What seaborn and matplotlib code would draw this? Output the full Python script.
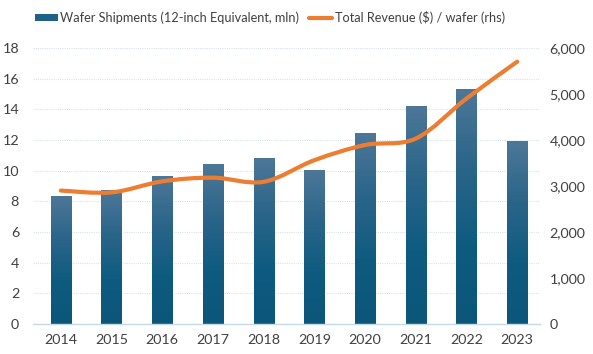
import matplotlib
matplotlib.use("Agg")
import matplotlib.pyplot as plt
import numpy as np
import pandas as pd
import seaborn as sns
from matplotlib.path import Path
from matplotlib.patches import PathPatch, Patch
from matplotlib.lines import Line2D
from matplotlib.ticker import FuncFormatter

# %% data
years = ["2014", "2015", "2016", "2017", "2018", "2019", "2020", "2021", "2022", "2023"]
wafer_shipments = [8.3, 8.7, 9.6, 10.4, 10.8, 10.0, 12.4, 14.2, 15.3, 11.9]
revenue_per_wafer = [2900, 2860, 3100, 3180, 3090, 3560, 3890, 4030, 4900, 5700]

df = pd.DataFrame({"year": years, "shipments": wafer_shipments, "rev": revenue_per_wafer})

sns.set_style("white")
plt.rcParams["font.family"] = ["Lato", "DejaVu Sans"]

text_col = "#404040"
orange = "#ED7D31"
bar_top = "#4d7798"
bar_bottom = "#0b5679"

fig = plt.figure(figsize=(5.93, 3.54), dpi=100)
ax = fig.add_axes([0.0556, 0.0847, 0.855, 0.78])

sns.barplot(data=df, x="year", y="shipments", color=bar_bottom, width=0.4,
            saturation=1, ax=ax, zorder=2)

# vertical gradient fill on each bar (excel style)
cmap = matplotlib.colors.LinearSegmentedColormap.from_list(
    "bar", [bar_bottom, "#0f5b80", "#2a6589", bar_top], N=256)
grad = np.linspace(0, 1, 256).reshape(-1, 1)
for p in ax.patches:
    x0, y0 = p.get_x(), p.get_y()
    ax.imshow(grad, extent=[x0, x0 + p.get_width(), y0, y0 + p.get_height()],
              origin="lower", aspect="auto", cmap=cmap, zorder=2.5)

ax.set_xlim(-0.55, 9.45)
ax.set_ylim(0, 18)
ax.set_yticks(np.arange(0, 19, 2))
ax.grid(axis="y", color="#d6e3ef", linestyle=(0, (1, 1)), linewidth=0.8, zorder=0)
ax.set_axisbelow(True)
ax.set_xlabel("")
ax.set_ylabel("")
for s in ["top", "right", "left"]:
    ax.spines[s].set_visible(False)
ax.spines["bottom"].set_color("#c5d9ea")
ax.spines["bottom"].set_linewidth(1)
ax.tick_params(axis="both", length=0, labelsize=10.3, colors=text_col)
ax.tick_params(axis="y", pad=10)
ax.tick_params(axis="x", pad=7)

# right axis with smoothed line
ax2 = ax.twinx()
ax2.set_ylim(0, 6000)
ax2.set_yticks(np.arange(0, 6001, 1000))
ax2.yaxis.set_major_formatter(FuncFormatter(lambda v, _: f"{v:,.0f}"))
ax2.tick_params(axis="y", length=0, labelsize=10.3, colors=text_col, pad=7)
for s in ax2.spines.values():
    s.set_visible(False)

xs = np.arange(len(years), dtype=float)
ys = np.array(revenue_per_wafer, dtype=float)
pts = np.column_stack([xs, ys])
verts = [pts[0]]
codes = [Path.MOVETO]
n = len(pts)
for i in range(n - 1):
    p_prev = pts[i - 1] if i > 0 else pts[i]
    p_next2 = pts[i + 2] if i + 2 < n else pts[i + 1]
    c1 = pts[i] + (pts[i + 1] - p_prev) / 6
    c2 = pts[i + 1] - (p_next2 - pts[i]) / 6
    verts += [c1, c2, pts[i + 1]]
    codes += [Path.CURVE4] * 3
ax2.add_patch(PathPatch(Path(verts, codes), facecolor="none", edgecolor=orange,
                        linewidth=3, capstyle="round", zorder=3))

handles = [Patch(facecolor="#1d6288", edgecolor="none"),
           Line2D([0], [0], color=orange, linewidth=3)]
labels = ["Wafer Shipments (12-inch Equivalent, mln)", "Total Revenue ($) / wafer (rhs)"]
leg = fig.legend(handles, labels, loc="center", bbox_to_anchor=(0.455, 0.95), ncol=2,
                 frameon=False, fontsize=9.2, handlelength=1.8, handleheight=0.5,
                 handletextpad=0.2, columnspacing=0.8, labelcolor=text_col)

fig.savefig("out.png", dpi=100)
